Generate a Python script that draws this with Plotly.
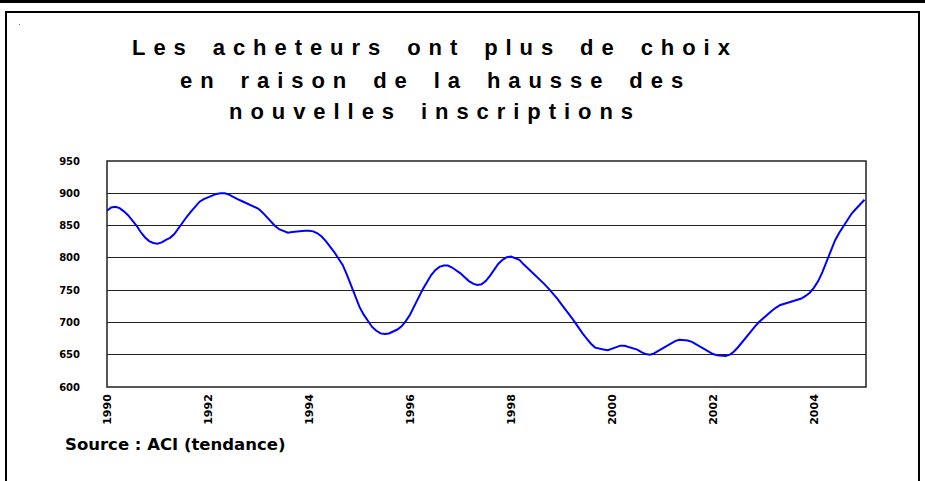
import plotly.graph_objects as go

# ---- data (monthly trend, Jan 1990 .. Jan 2005) ----
start_year = 1990
listings_1990 = [873, 878, 879, 877, 872, 866, 858, 850, 840, 832, 826, 823]
listings_1991 = [822, 824, 828, 831, 837, 846, 856, 864, 872, 880, 887, 891]
listings_1992 = [894, 897, 899, 900, 900, 898, 894, 891, 888, 885, 883, 880]
listings_1993 = [876, 870, 863, 856, 849, 844, 841, 839, 840, 841, 842, 842]
listings_1994 = [842, 841, 838, 833, 826, 818, 809, 799, 789, 774, 757, 740]
listings_1995 = [724, 712, 702, 693, 687, 683, 682, 683, 686, 689, 694, 702]
listings_1996 = [712, 724, 738, 751, 762, 773, 781, 786, 788, 788, 785, 781]
listings_1997 = [776, 770, 764, 760, 758, 759, 764, 772, 782, 791, 797, 801]
listings_1998 = [802, 800, 797, 790, 784, 778, 771, 765, 759, 752, 745, 737]
listings_1999 = [728, 720, 711, 702, 692, 683, 675, 667, 661, 659, 658, 657]
listings_2000 = [659, 662, 664, 664, 662, 661, 658, 654, 651, 650, 652, 656]
listings_2001 = [660, 664, 667, 671, 673, 673, 672, 670, 666, 662, 658, 655]
listings_2002 = [651, 649, 648, 648, 650, 655, 662, 670, 679, 687, 694, 701]
listings_2003 = [707, 713, 718, 723, 727, 729, 731, 733, 735, 737, 741, 746]
listings_2004 = [754, 764, 778, 795, 812, 827, 839, 849, 859, 869, 876, 883]
listings_2005 = [890]

listings = (listings_1990 + listings_1991 + listings_1992 + listings_1993 +
            listings_1994 + listings_1995 + listings_1996 + listings_1997 +
            listings_1998 + listings_1999 + listings_2000 + listings_2001 +
            listings_2002 + listings_2003 + listings_2004 + listings_2005)
months = [start_year + i / 12 for i in range(len(listings))]

tick_years = [1990, 1992, 1994, 1996, 1998, 2000, 2002, 2004]
tick_labels = ["1990", "1992", "1994", "1996", "1998", "2000", "2002", "2004"]
y_ticks = [600, 650, 700, 750, 800, 850, 900, 950]
y_labels = ["600", "650", "700", "750", "800", "850", "900", "950"]

title_lines = ["Les acheteurs ont plus de choix",
               "en raison de la hausse des",
               "nouvelles inscriptions"]
source_text = "Source : ACI (tendance)"

# ---- layout geometry (pixels) ----
W, H = 925, 481
L, R, T, B = 107, 866, 161, 387
pw, ph = R - L, B - T


def px_x(px):
    return (px - L) / pw


def px_y(py):
    return (B - py) / ph


LETTER_SEP = "\u00a0\u200a"
WORD_SEP = LETTER_SEP + "\u2002" + LETTER_SEP


def spaced(text):
    return WORD_SEP.join(LETTER_SEP.join(w) for w in text.split(" "))


fig = go.Figure()
fig.add_trace(go.Scatter(x=months, y=listings, mode="lines",
                         line=dict(color="#0000ff", width=2), showlegend=False,
                         hoverinfo="skip"))

annotations = []
for txt, yc in zip(title_lines, [47, 80, 111]):
    annotations.append(dict(text=spaced(txt), x=px_x(431), y=px_y(yc),
                            xref="paper", yref="paper", xanchor="center",
                            yanchor="middle", showarrow=False,
                            font=dict(family="Liberation Sans", size=22,
                                      color="black", weight="bold")))
annotations.append(dict(text=source_text, x=px_x(63), y=px_y(444),
                        xref="paper", yref="paper", xanchor="left",
                        yanchor="middle", showarrow=False,
                        font=dict(family="DejaVu Sans", size=16.5,
                                  color="black", weight="bold")))

shapes = [
    # top rule across the page
    dict(type="line", xref="paper", yref="paper", x0=px_x(0), x1=px_x(W),
         y0=px_y(1.5), y1=px_y(1.5), line=dict(color="black", width=3)),
    # outer frame
    dict(type="rect", xref="paper", yref="paper", x0=px_x(6), x1=px_x(919),
         y0=px_y(500), y1=px_y(12), line=dict(color="black", width=2)),
    # tiny speck near the top-left corner
    dict(type="rect", xref="paper", yref="paper", x0=px_x(19), x1=px_x(20),
         y0=px_y(25), y1=px_y(24), line=dict(width=0), fillcolor="#777"),
    # plot frame
    dict(type="rect", xref="paper", yref="paper", x0=0, x1=1, y0=0, y1=1,
         line=dict(color="#222", width=1.5)),
]

fig.update_layout(
    width=W, height=H,
    margin=dict(l=L, r=W - R, t=T, b=H - B, pad=0),
    paper_bgcolor="white", plot_bgcolor="white",
    annotations=annotations, shapes=shapes,
    xaxis=dict(range=[1990, 2005.03], tickmode="array", tickvals=tick_years,
               ticktext=tick_labels, tickangle=-90, showgrid=False,
               zeroline=False, showline=False, ticks="",
               ticklabelstandoff=4,
               tickfont=dict(family="DejaVu Sans", size=11, color="black",
                             weight="bold")),
    yaxis=dict(range=[600, 950], tickmode="array", tickvals=y_ticks,
               ticktext=y_labels, showgrid=True, gridcolor="#222",
               gridwidth=1, zeroline=False, showline=False, ticks="",
               ticklabelstandoff=26,
               tickfont=dict(family="DejaVu Sans", size=10, color="black",
                             weight="bold")),
)

fig.write_html("out.html",
               config={"displayModeBar": False, "staticPlot": True},
               post_script="document.body.style.margin='0';"
                           "document.body.style.overflow='hidden';")
